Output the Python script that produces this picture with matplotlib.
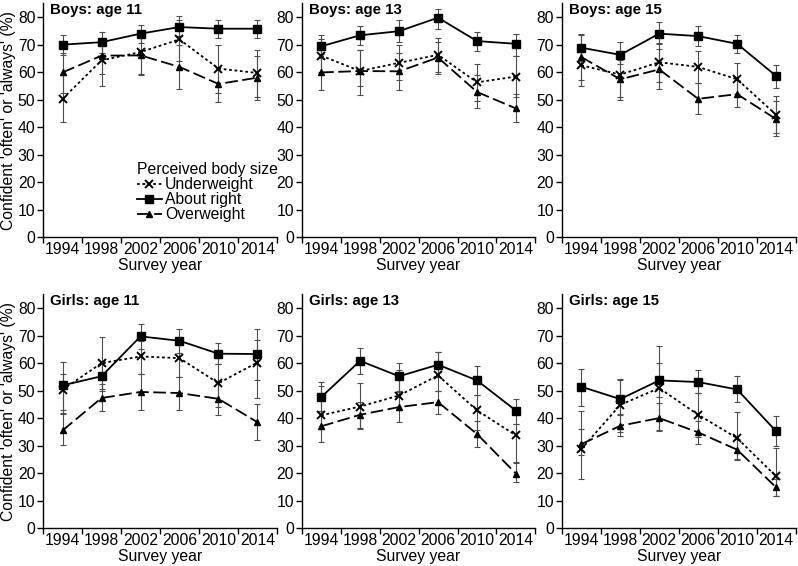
"""
Confident 'often' or 'always' by perceived body size, 1994-2014.
Six panels (boys / girls x age 11, 13, 15) with 95% CI error bars.
"""

import numpy as np
import matplotlib
import matplotlib.pyplot as plt

matplotlib.use("Agg")

plt.rcParams["font.family"] = ["Liberation Sans", "DejaVu Sans"]

# ── Data ─────────────────────────────────────────────────────────────────────
YEARS = ["1994", "1998", "2002", "2006", "2010", "2014"]
SERIES_NAMES = ["Underweight", "About right", "Overweight"]
PANEL_TITLES = ["Boys: age 11", "Boys: age 13", "Boys: age 15",
                "Girls: age 11", "Girls: age 13", "Girls: age 15"]

# Boys, age 11
B11_UNDER = [50.3, 64.3, 67.3, 71.9, 61.3, 59.7]
B11_UNDER_LO = [41.7, 55.0, 59.5, 64.0, 52.5, 51.0]
B11_UNDER_HI = [59.0, 72.0, 75.0, 79.0, 69.8, 68.2]
B11_RIGHT = [70.0, 70.9, 74.0, 76.4, 75.8, 75.8]
B11_RIGHT_LO = [66.3, 67.0, 70.5, 73.0, 72.5, 72.5]
B11_RIGHT_HI = [73.6, 74.6, 77.3, 80.4, 79.0, 79.0]
B11_OVER = [59.9, 66.0, 66.1, 61.9, 55.7, 58.0]
B11_OVER_LO = [52.5, 59.5, 59.0, 54.0, 49.2, 50.0]
B11_OVER_HI = [66.8, 72.5, 73.0, 70.0, 62.0, 66.0]

# Boys, age 13
B13_UNDER = [66.0, 60.4, 63.4, 66.3, 56.3, 58.4]
B13_UNDER_LO = [60.0, 55.0, 57.0, 60.0, 49.5, 51.0]
B13_UNDER_HI = [72.0, 68.2, 70.0, 72.5, 63.0, 66.0]
B13_RIGHT = [69.4, 73.4, 74.9, 79.8, 71.3, 70.3]
B13_RIGHT_LO = [65.0, 70.0, 71.0, 75.8, 67.7, 66.0]
B13_RIGHT_HI = [73.6, 76.7, 79.0, 82.8, 74.6, 74.0]
B13_OVER = [59.9, 60.4, 60.3, 65.3, 52.8, 46.8]
B13_OVER_LO = [53.4, 51.6, 53.4, 59.2, 47.1, 41.9]
B13_OVER_HI = [66.5, 68.0, 67.0, 71.0, 59.0, 52.0]

# Boys, age 15
B15_UNDER = [62.5, 59.1, 63.6, 61.9, 57.4, 44.5]
B15_UNDER_LO = [57.0, 51.0, 56.5, 56.0, 52.0, 38.0]
B15_UNDER_HI = [68.0, 66.0, 70.5, 67.7, 63.4, 51.5]
B15_RIGHT = [68.9, 66.3, 74.0, 73.1, 70.3, 58.6]
B15_RIGHT_LO = [64.0, 63.0, 70.3, 69.4, 67.1, 54.4]
B15_RIGHT_HI = [74.0, 70.8, 78.1, 76.6, 73.6, 62.5]
B15_OVER = [65.5, 57.4, 61.0, 50.3, 52.0, 42.9]
B15_OVER_LO = [54.9, 50.0, 53.9, 44.7, 47.2, 36.7]
B15_OVER_HI = [73.5, 64.5, 68.5, 56.0, 57.0, 49.5]

# Girls, age 11
G11_UNDER = [50.3, 60.0, 62.4, 61.8, 52.7, 60.2]
G11_UNDER_LO = [41.5, 50.5, 56.0, 55.0, 44.0, 47.2]
G11_UNDER_HI = [56.0, 69.5, 68.0, 69.0, 59.5, 68.3]
G11_RIGHT = [51.9, 55.2, 69.7, 68.1, 63.4, 63.3]
G11_RIGHT_LO = [43.0, 50.0, 65.0, 63.5, 59.5, 54.0]
G11_RIGHT_HI = [60.4, 60.0, 74.2, 72.4, 67.3, 72.5]
G11_OVER = [35.5, 47.3, 49.5, 49.1, 47.0, 38.5]
G11_OVER_LO = [30.1, 42.6, 43.0, 43.0, 41.0, 32.2]
G11_OVER_HI = [41.8, 52.5, 56.0, 55.0, 53.0, 45.0]

# Girls, age 13
G13_UNDER = [41.0, 44.2, 48.2, 55.5, 42.8, 33.7]
G13_UNDER_LO = [36.0, 36.5, 43.0, 50.0, 35.5, 24.0]
G13_UNDER_HI = [51.5, 52.7, 57.5, 64.0, 48.5, 38.0]
G13_RIGHT = [47.6, 60.8, 55.2, 59.4, 53.7, 42.7]
G13_RIGHT_LO = [42.5, 56.0, 50.0, 55.0, 48.5, 38.0]
G13_RIGHT_HI = [53.0, 65.5, 59.9, 64.2, 59.0, 47.0]
G13_OVER = [37.0, 41.2, 44.0, 45.8, 34.2, 19.8]
G13_OVER_LO = [31.2, 36.1, 38.4, 41.5, 29.5, 16.7]
G13_OVER_HI = [42.5, 46.0, 49.5, 50.0, 39.0, 23.5]

# Girls, age 15
G15_UNDER = [28.7, 44.8, 50.9, 41.2, 32.7, 18.8]
G15_UNDER_LO = [17.8, 35.0, 35.5, 33.0, 25.0, 11.5]
G15_UNDER_HI = [42.5, 54.0, 66.1, 49.0, 42.2, 29.1]
G15_RIGHT = [51.4, 46.9, 53.7, 53.1, 50.4, 35.2]
G15_RIGHT_LO = [44.5, 41.0, 47.5, 49.0, 46.0, 29.8]
G15_RIGHT_HI = [57.8, 54.3, 60.0, 57.5, 55.2, 40.6]
G15_OVER = [30.5, 37.2, 40.0, 34.8, 28.5, 14.8]
G15_OVER_LO = [26.5, 33.3, 35.2, 30.6, 24.6, 11.5]
G15_OVER_HI = [36.0, 41.5, 45.5, 39.0, 32.5, 18.0]

PANELS = [
    [(B11_UNDER, B11_UNDER_LO, B11_UNDER_HI), (B11_RIGHT, B11_RIGHT_LO, B11_RIGHT_HI), (B11_OVER, B11_OVER_LO, B11_OVER_HI)],
    [(B13_UNDER, B13_UNDER_LO, B13_UNDER_HI), (B13_RIGHT, B13_RIGHT_LO, B13_RIGHT_HI), (B13_OVER, B13_OVER_LO, B13_OVER_HI)],
    [(B15_UNDER, B15_UNDER_LO, B15_UNDER_HI), (B15_RIGHT, B15_RIGHT_LO, B15_RIGHT_HI), (B15_OVER, B15_OVER_LO, B15_OVER_HI)],
    [(G11_UNDER, G11_UNDER_LO, G11_UNDER_HI), (G11_RIGHT, G11_RIGHT_LO, G11_RIGHT_HI), (G11_OVER, G11_OVER_LO, G11_OVER_HI)],
    [(G13_UNDER, G13_UNDER_LO, G13_UNDER_HI), (G13_RIGHT, G13_RIGHT_LO, G13_RIGHT_HI), (G13_OVER, G13_OVER_LO, G13_OVER_HI)],
    [(G15_UNDER, G15_UNDER_LO, G15_UNDER_HI), (G15_RIGHT, G15_RIGHT_LO, G15_RIGHT_HI), (G15_OVER, G15_OVER_LO, G15_OVER_HI)],
]

# ── Styles ───────────────────────────────────────────────────────────────────
STYLES = [
    dict(linestyle=(0, (1.5, 1.5)), marker="x", markersize=6, mew=1.4),
    dict(linestyle="-", marker="s", markersize=6, mew=1.0),
    dict(linestyle=(0, (7, 2.5)), marker="^", markersize=5, mew=1.0),
]
FS = 11.3

LEFTS = [0.054, 0.378, 0.704]
BOTTOMS = [0.581, 0.067]
WIDTH = 0.293
HEIGHT = 0.413


def draw_panel(ax, series, title, show_ylabel):
    x = np.arange(len(YEARS))
    lines = []
    for (vals, lo, hi), name, style in zip(series, SERIES_NAMES, STYLES):
        vals = np.array(vals)
        yerr = [vals - np.array(lo), np.array(hi) - vals]
        ax.errorbar(x, vals, yerr=yerr, fmt="none", ecolor="0.3",
                    elinewidth=0.8, capsize=2.5, capthick=0.8, zorder=1)
        ln, = ax.plot(x, vals, color="black", lw=1.3, mfc="black",
                      mec="black", label=name, zorder=3, **style)
        lines.append(ln)

    ax.set_xlim(-0.5, len(YEARS) - 0.5)
    ax.set_ylim(0, 85)
    ax.set_yticks(range(0, 81, 10))
    ax.set_xticks(x)
    ax.set_xticklabels(YEARS)
    ax.set_xticks(np.arange(-0.5, len(YEARS)), minor=True)
    ax.tick_params(axis="x", which="major", length=0, pad=3.5, labelsize=FS)
    ax.tick_params(axis="x", which="minor", length=4, width=1.0)
    ax.tick_params(axis="y", length=4, width=1.0, pad=1.5, labelsize=FS)
    for side in ("top", "right"):
        ax.spines[side].set_visible(False)
    for side in ("left", "bottom"):
        ax.spines[side].set_linewidth(1.0)

    ax.set_xlabel("Survey year", fontsize=FS, labelpad=0.5)
    if show_ylabel:
        ax.set_ylabel("Confident 'often' or 'always' (%)", fontsize=FS, labelpad=1)
    ax.text(0.03, 1.0, title, transform=ax.transAxes, fontsize=10.8,
            fontweight="bold", va="top", ha="left")
    return lines


fig = plt.figure(figsize=(7.98, 5.66), dpi=100)
for i, (series, title) in enumerate(zip(PANELS, PANEL_TITLES)):
    row, col = divmod(i, 3)
    ax = fig.add_axes([LEFTS[col], BOTTOMS[row], WIDTH, HEIGHT])
    lines = draw_panel(ax, series, title, col == 0)
    if i == 0:
        leg = ax.legend(handles=lines, title="Perceived body size",
                        loc="upper left", bbox_to_anchor=(0.40, 0.32),
                        frameon=False, fontsize=FS, title_fontsize=FS,
                        handlelength=1.6, handletextpad=0.2,
                        labelspacing=0.0, borderpad=0, borderaxespad=0)
        leg._legend_box.align = "left"

fig.savefig("out.png", dpi=100)
